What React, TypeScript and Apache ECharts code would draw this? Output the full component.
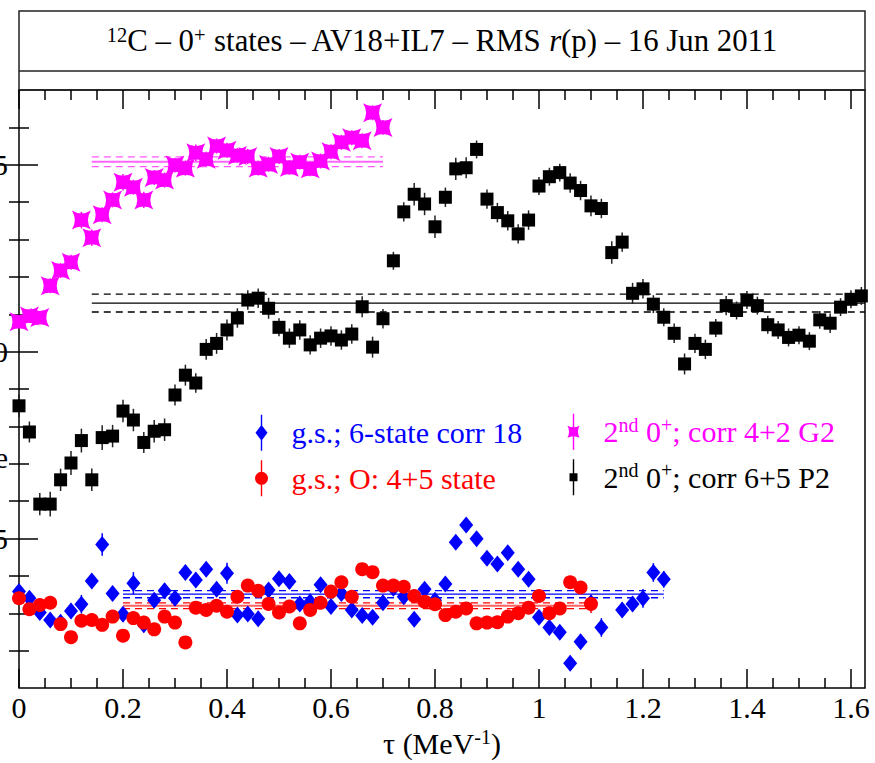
import React, { useEffect, useRef } from 'react';
import * as echarts from 'echarts';

const OFF = 60; // chart is shifted left so the y tick labels are cut off as in the reference
const FONT = "'Liberation Serif', 'Times New Roman', Times, serif";

const TAU = [
  0, 0.02, 0.04, 0.06, 0.08, 0.1, 0.12, 0.14, 0.16, 0.18,
  0.2, 0.22, 0.24, 0.26, 0.28, 0.3, 0.32, 0.34, 0.36, 0.38,
  0.4, 0.42, 0.44, 0.46, 0.48, 0.5, 0.52, 0.54, 0.56, 0.58,
  0.6, 0.62, 0.64, 0.66, 0.68, 0.7, 0.72, 0.74, 0.76, 0.78,
  0.8, 0.82, 0.84, 0.86, 0.88, 0.9, 0.92, 0.94, 0.96, 0.98,
  1, 1.02, 1.04, 1.06, 1.08, 1.1, 1.12, 1.14, 1.16, 1.18,
  1.2, 1.22, 1.24, 1.26, 1.28, 1.3, 1.32, 1.34, 1.36, 1.38,
  1.4, 1.42, 1.44, 1.46, 1.48, 1.5, 1.52, 1.54, 1.56, 1.58,
  1.6, 1.62,
];

// g.s.; 6-state corr 18 (blue diamonds), tau = 0 .. 1.24
const GS6_VAL = [
  2.358, 2.340, 2.302, 2.282, 2.276, 2.306, 2.324, 2.386, 2.484, 2.353,
  2.297, 2.380, 2.269, 2.335, 2.360, 2.340, 2.409, 2.389, 2.418, 2.364,
  2.407, 2.295, 2.298, 2.285, 2.362, 2.392, 2.385, 2.325, 2.331, 2.376,
  2.318, 2.353, 2.309, 2.294, 2.289, 2.328, 2.367, 2.344, 2.284, 2.364,
  2.335, 2.378, 2.490, 2.536, 2.499, 2.447, 2.432, 2.462, 2.418, 2.391,
  2.289, 2.262, 2.249, 2.166, 2.224, 2.328, 2.262, null, 2.309, 2.325,
  2.340, 2.409, 2.391,
];
const GS6_ERR = [
  0.020, 0.018, 0.015, 0.015, 0.015, 0.020, 0.025, 0.020, 0.030, 0.020,
  0.020, 0.030, 0.020, 0.020, 0.020, 0.020, 0.020, 0.020, 0.020, 0.020,
  0.028, 0.015, 0.015, 0.020, 0.015, 0.015, 0.020, 0.015, 0.015, 0.015,
  0.015, 0.020, 0.015, 0.015, 0.015, 0.015, 0.020, 0.015, 0.012, 0.015,
  0.012, 0.015, 0.012, 0.012, 0.012, 0.015, 0.012, 0.015, 0.012, 0.015,
  0.015, 0.012, 0.015, 0.020, 0.020, 0.020, 0.025, 0.020, 0.020, 0.020,
  0.025, 0.025, 0.022,
];

// g.s.; O: 4+5 state (red circles), tau = 0 .. 1.10
const GSO_VAL = [
  2.340, 2.311, 2.322, 2.328, 2.271, 2.236, 2.280, 2.282, 2.269, 2.291,
  2.240, 2.287, 2.275, 2.257, 2.291, 2.275, 2.222, 2.315, 2.309, 2.320,
  2.304, 2.344, 2.374, 2.360, 2.325, 2.302, 2.318, 2.273, 2.309, 2.328,
  2.358, 2.383, 2.344, 2.418, 2.410, 2.374, 2.374, 2.371, 2.346, 2.331,
  2.324, 2.295, 2.304, 2.313, 2.273, 2.275, 2.276, 2.291, 2.300, 2.315,
  2.346, 2.300, 2.313, 2.383, 2.369, 2.325,
];
const GSO_ERR = [
  0.012, 0.012, 0.012, 0.012, 0.012, 0.015, 0.012, 0.012, 0.012, 0.012,
  0.012, 0.012, 0.012, 0.012, 0.012, 0.012, 0.012, 0.012, 0.012, 0.012,
  0.012, 0.012, 0.012, 0.012, 0.012, 0.012, 0.012, 0.012, 0.012, 0.012,
  0.012, 0.012, 0.012, 0.012, 0.012, 0.012, 0.012, 0.012, 0.012, 0.012,
  0.012, 0.012, 0.012, 0.012, 0.012, 0.012, 0.012, 0.012, 0.012, 0.012,
  0.012, 0.012, 0.012, 0.015, 0.015, 0.024,
];

// 2nd 0+; corr 4+2 G2 (magenta stars), tau = 0 .. 0.70
const S2G_VAL = [
  3.080, 3.095, 3.091, 3.176, 3.217, 3.239, 3.352, 3.305, 3.366, 3.406,
  3.453, 3.440, 3.406, 3.466, 3.459, 3.499, 3.491, 3.532, 3.515, 3.550,
  3.539, 3.525, 3.522, 3.491, 3.501, 3.522, 3.493, 3.507, 3.489, 3.510,
  3.535, 3.560, 3.572, 3.564, 3.639, 3.600,
];
const S2G_ERR = [
  0.018, 0.018, 0.018, 0.020, 0.020, 0.020, 0.022, 0.022, 0.020, 0.020,
  0.022, 0.020, 0.022, 0.020, 0.020, 0.020, 0.020, 0.022, 0.020, 0.020,
  0.020, 0.020, 0.020, 0.020, 0.020, 0.020, 0.020, 0.020, 0.020, 0.020,
  0.020, 0.020, 0.020, 0.020, 0.020, 0.020,
];

// 2nd 0+; corr 6+5 P2 (black squares), tau = 0 .. 1.62
const S2P_VAL = [
  2.855, 2.785, 2.592, 2.592, 2.657, 2.702, 2.762, 2.657, 2.770, 2.774,
  2.841, 2.817, 2.757, 2.787, 2.791, 2.884, 2.937, 2.916, 3.006, 3.022,
  3.058, 3.090, 3.138, 3.143, 3.116, 3.065, 3.036, 3.058, 3.018, 3.036,
  3.042, 3.031, 3.047, 3.120, 3.012, 3.088, 3.243, 3.374, 3.421, 3.395,
  3.334, 3.413, 3.489, 3.492, 3.541, 3.408, 3.372, 3.350, 3.315, 3.352,
  3.443, 3.468, 3.479, 3.451, 3.431, 3.390, 3.383, 3.265, 3.293, 3.156,
  3.168, 3.127, 3.092, 3.049, 2.967, 3.022, 3.006, 3.063, 3.123, 3.110,
  3.138, 3.123, 3.072, 3.058, 3.038, 3.044, 3.028, 3.085, 3.076, 3.119,
  3.140, 3.149,
];
const S2P_ERR = [
  0.030, 0.028, 0.030, 0.033, 0.030, 0.032, 0.032, 0.030, 0.033, 0.030,
  0.030, 0.030, 0.028, 0.030, 0.030, 0.028, 0.028, 0.026, 0.028, 0.028,
  0.028, 0.026, 0.026, 0.026, 0.028, 0.024, 0.026, 0.026, 0.026, 0.026,
  0.026, 0.026, 0.026, 0.028, 0.028, 0.026, 0.024, 0.026, 0.030, 0.030,
  0.030, 0.026, 0.030, 0.028, 0.024, 0.026, 0.026, 0.026, 0.026, 0.026,
  0.024, 0.024, 0.024, 0.026, 0.026, 0.028, 0.026, 0.030, 0.026, 0.028,
  0.026, 0.024, 0.024, 0.026, 0.028, 0.026, 0.026, 0.024, 0.026, 0.024,
  0.024, 0.024, 0.024, 0.024, 0.024, 0.024, 0.024, 0.024, 0.026, 0.024,
  0.024, 0.024,
];

// averages: [mean, error, tau from, tau to]
const GS6_AVG = [2.351, 0.0095, 0.2, 1.24];
const GSO_AVG = [2.320, 0.0075, 0.2, 1.1];
const S2G_AVG = [3.508, 0.013, 0.14, 0.7];
const S2P_AVG = [3.130, 0.024, 0.14, 1.627];

const X_MAJOR = [0, 0.2, 0.4, 0.6, 0.8, 1, 1.2, 1.4, 1.6];
const X_MINOR = [0.05, 0.1, 0.15, 0.25, 0.3, 0.35, 0.45, 0.5, 0.55, 0.65, 0.7, 0.75,
  0.85, 0.9, 0.95, 1.05, 1.1, 1.15, 1.25, 1.3, 1.35, 1.45, 1.5, 1.55];
const Y_MAJOR = [2.5, 3.0, 3.5];
const Y_MINOR = [2.2, 2.3, 2.4, 2.6, 2.7, 2.8, 2.9, 3.1, 3.2, 3.3, 3.4, 3.6];

const NAMES = ['g.s.; 6-state corr 18', 'g.s.; O: 4+5 state', '2nd 0+; corr 4+2 G2', '2nd 0+; corr 6+5 P2'];
const RICH_NAMES: Record<string, string> = {
  'g.s.; 6-state corr 18': 'g.s.; 6-state corr 18',
  'g.s.; O: 4+5 state': 'g.s.; O: 4+5 state',
  '2nd 0+; corr 4+2 G2': '2{sup|nd} 0{sup|+}; corr 4+2 G2',
  '2nd 0+; corr 6+5 P2': '2{sup|nd} 0{sup|+}; corr 6+5 P2',
};

const BLUE = '#0000ff';
const RED = '#ff0000';
const MAGENTA = '#ff00ff';
const BLACK = '#000000';

const STAR_D = 'M2,2Q10,7 18,2Q13,10 18,18Q10,13 2,18Q7,10 2,2Z';
const STAR = 'path://' + STAR_D;
const BAR = 'M9.3,0H10.7V36H9.3Z ';
const ICON_DIAMOND = 'path://' + BAR + 'M10,10L16,18L10,26L4,18Z';
const ICON_CIRCLE = 'path://' + BAR + 'M3.5,18A6.5,6.5 0 1 1 16.5,18A6.5,6.5 0 1 1 3.5,18Z';
const ICON_STAR = 'path://' + BAR + 'M4,12Q10,15 16,12Q13,18 16,24Q10,21 4,24Q7,18 4,12Z';
const ICON_SQUARE = 'path://' + BAR + 'M6,14H14V22H6Z';

function points(vals: (number | null)[], errs: number[]) {
  const out: number[][] = [];
  vals.forEach((v, i) => {
    if (v != null) out.push([TAU[i], v, errs[i]]);
  });
  return out;
}

function errSeries(name: string, data: number[][], color: string) {
  return {
    type: 'custom',
    name: name + ' error',
    xAxisIndex: 0,
    yAxisIndex: 0,
    silent: true,
    clip: false,
    z: 3,
    data,
    renderItem: (_p: any, api: any) => {
      const x = api.value(0);
      const y = api.value(1);
      const e = api.value(2);
      const a = api.coord([x, y + e]);
      const b = api.coord([x, y - e]);
      return {
        type: 'line',
        shape: { x1: a[0], y1: a[1], x2: b[0], y2: b[1] },
        style: { stroke: color, lineWidth: 1.5 },
      };
    },
  };
}

function scatter(name: string, data: number[][], color: string, symbol: string, size: any) {
  return {
    type: 'scatter',
    name,
    xAxisIndex: 0,
    yAxisIndex: 0,
    symbol,
    symbolSize: size,
    clip: false,
    z: 4,
    silent: true,
    itemStyle: { color, opacity: 1 },
    data: data.map((d) => [d[0], d[1]]),
  };
}

function avgLines(key: string, avg: number[], color: string, solidColor: string, solidWidth: number) {
  const [m, e, x0, x1] = avg;
  const mk = (v: number, solid: boolean, suffix: string) => ({
    type: 'line',
    name: key + suffix,
    xAxisIndex: 0,
    yAxisIndex: 0,
    symbol: 'none',
    silent: true,
    z: 2,
    lineStyle: solid
      ? { color: solidColor, width: solidWidth, type: 'solid' }
      : { color, width: 1.3, type: [7, 5] },
    data: [[x0, v], [x1, v]],
  });
  return [mk(m, true, ' mean'), mk(m + e, false, ' +err'), mk(m - e, false, ' -err')];
}

function tickAxis(kind: 'x' | 'y', position: string, values: number[], len: number, labels: boolean) {
  const base: any = {
    type: 'value',
    position,
    gridIndex: 0,
    axisLine: { show: false },
    splitLine: { show: false },
    axisTick: {
      show: true,
      inside: true,
      length: len,
      customValues: values,
      lineStyle: { color: '#000', width: 1.5 },
    },
    axisLabel: { show: false },
    axisPointer: { show: false },
  };
  if (kind === 'x') {
    base.min = 0;
    base.max = 1.627;
  } else {
    base.min = 2.1;
    base.max = 3.7;
  }
  if (labels) {
    base.axisLabel = {
      show: true,
      customValues: values,
      color: '#000',
      fontSize: 30,
      fontFamily: FONT,
      margin: kind === 'x' ? 4 : 11,
      formatter: (v: number) => (kind === 'x' ? String(Math.round(v * 10) / 10) : v.toFixed(1)),
    };
  }
  return base;
}

export default function App() {
  const ref = useRef<HTMLDivElement>(null);

  useEffect(() => {
    if (!ref.current) return;
    const chart = echarts.init(ref.current, null, { renderer: 'svg' });

    const gs6 = points(GS6_VAL, GS6_ERR);
    const gso = points(GSO_VAL, GSO_ERR);
    const s2g = points(S2G_VAL, S2G_ERR);
    const s2p = points(S2P_VAL, S2P_ERR);

    const xMain = tickAxis('x', 'bottom', X_MAJOR, 19, true);
    xMain.name = 'τ (MeV{sup|-1})';
    xMain.nameLocation = 'middle';
    xMain.nameGap = 38;
    xMain.nameTextStyle = {
      color: '#000',
      fontSize: 30,
      fontFamily: FONT,
      lineHeight: 34,
      rich: { sup: { fontSize: 20, lineHeight: 20, verticalAlign: 'top', fontFamily: FONT } },
    };

    const legendRich = {
      sup: { fontSize: 20, lineHeight: 21, verticalAlign: 'top', fontFamily: FONT },
    };
    const legendCommon = {
      orient: 'vertical',
      padding: 0,
      itemWidth: 44,
      itemHeight: 36,
      itemGap: 9.6,
      selectedMode: false,
      symbolKeepAspect: true,
      formatter: (n: string) => RICH_NAMES[n] || n,
      textStyle: { fontSize: 30, fontFamily: FONT, lineHeight: 34, padding: [0, 0, 0, 3], rich: legendRich },
    };

    const option: any = {
      animation: false,
      backgroundColor: '#fff',
      textStyle: { fontFamily: FONT },
      grid: {
        left: 19 + OFF,
        right: 10,
        top: 90,
        bottom: 75,
        show: true,
        borderColor: '#000',
        borderWidth: 1.5,
        containLabel: false,
        outerBoundsMode: 'none',
      },
      xAxis: [
        xMain,
        tickAxis('x', 'bottom', X_MINOR, 10, false),
        tickAxis('x', 'top', X_MAJOR, 19, false),
        tickAxis('x', 'top', X_MINOR, 10, false),
      ],
      yAxis: [
        tickAxis('y', 'left', Y_MAJOR, 19, true),
        tickAxis('y', 'left', Y_MINOR, 10, false),
        tickAxis('y', 'right', Y_MAJOR, 19, false),
        tickAxis('y', 'right', Y_MINOR, 10, false),
      ],
      legend: [
        {
          ...legendCommon,
          left: 255 + OFF,
          top: 414.7,
          data: [
            { name: NAMES[0], icon: ICON_DIAMOND, textStyle: { color: BLUE } },
            { name: NAMES[1], icon: ICON_CIRCLE, textStyle: { color: RED } },
          ],
        },
        {
          ...legendCommon,
          left: 567.5 + OFF,
          top: 413.7,
          data: [
            { name: NAMES[2], icon: ICON_STAR, textStyle: { color: MAGENTA } },
            { name: NAMES[3], icon: ICON_SQUARE, textStyle: { color: BLACK } },
          ],
        },
      ],
      graphic: [
        {
          type: 'rect',
          shape: { x: 19 + OFF, y: 11, width: 846, height: 79 },
          style: { fill: 'none', stroke: '#222', lineWidth: 1.5 },
          silent: true,
        },
        {
          type: 'line',
          shape: { x1: 19 + OFF, y1: 71, x2: 865 + OFF, y2: 71 },
          style: { stroke: '#222', lineWidth: 1.5 },
          silent: true,
        },
        {
          type: 'text',
          x: 442 + OFF,
          y: 41,
          silent: true,
          style: {
            text: '{sup|12}C – 0{sup|+} states – AV18+IL7 – RMS {it|r}(p) – 16 Jun 2011',
            fill: '#000',
            fontSize: 30.8,
            fontFamily: FONT,
            lineHeight: 34,
            align: 'center',
            textAlign: 'center',
            verticalAlign: 'middle',
            textVerticalAlign: 'middle',
            rich: {
              sup: { fontSize: 20.5, lineHeight: 21, verticalAlign: 'top', fontFamily: FONT, fill: '#000' },
              it: { fontSize: 30.8, lineHeight: 34, fontStyle: 'italic', fontFamily: FONT, fill: '#000' },
            },
          },
        },
        {
          type: 'text',
          x: 8 + OFF,
          y: 457,
          silent: true,
          style: {
            text: 'e',
            fill: '#000',
            fontSize: 30,
            fontFamily: FONT,
            align: 'right',
            textAlign: 'right',
            verticalAlign: 'middle',
            textVerticalAlign: 'middle',
          },
        },
      ],
      series: [
        ...avgLines('gs6 avg', GS6_AVG, BLUE, BLUE, 1.3),
        ...avgLines('gso avg', GSO_AVG, RED, '#ff6060', 2),
        ...avgLines('s2g avg', S2G_AVG, '#ff55ff', '#ff66ff', 2),
        ...avgLines('s2p avg', S2P_AVG, BLACK, BLACK, 1.3),
        errSeries(NAMES[0], gs6, BLUE),
        scatter(NAMES[0], gs6, BLUE, 'diamond', [14, 17]),
        errSeries(NAMES[1], gso, RED),
        scatter(NAMES[1], gso, RED, 'circle', 14),
        errSeries(NAMES[2], s2g, MAGENTA),
        scatter(NAMES[2], s2g, MAGENTA, STAR, 19),
        errSeries(NAMES[3], s2p, '#222'),
        scatter(NAMES[3], s2p, BLACK, 'rect', 13),
      ],
    };

    chart.setOption(option);
    return () => chart.dispose();
  }, []);

  return (
    <div
      ref={ref}
      style={{ position: 'absolute', left: -OFF, top: 0, width: 875 + OFF, height: 763 }}
    />
  );
}
